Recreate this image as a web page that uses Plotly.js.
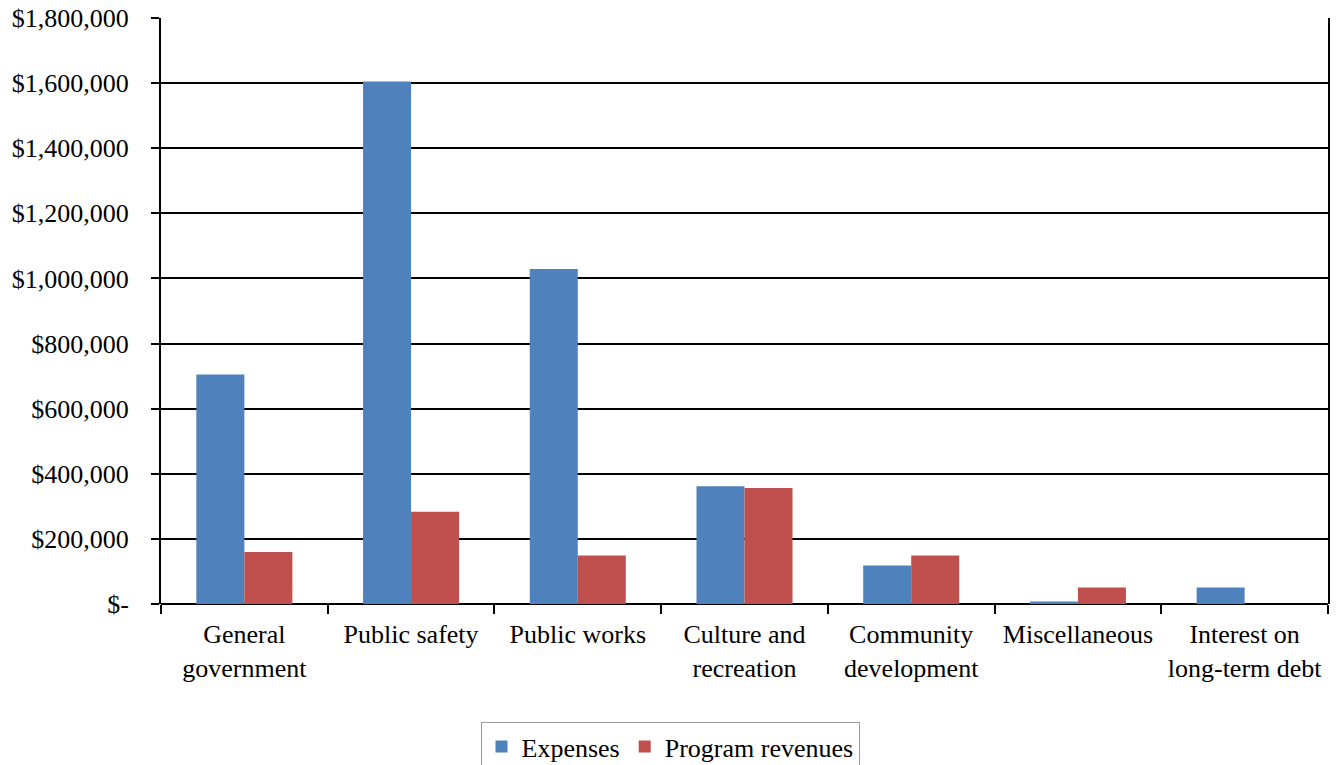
<!DOCTYPE html>
<html>
<head>
<meta charset="utf-8">
<script src="https://cdn.plot.ly/plotly-3.0.1.min.js"></script>
<style>html,body{margin:0;padding:0;background:#fff;}#chart{width:1340px;height:765px;}</style>
</head>
<body>
<div id="chart"></div>
<script>
var categories = ["General<br>government", "Public safety", "Public works", "Culture and<br>recreation", "Community<br>development", "Miscellaneous", "Interest on<br>long-term debt"];
var expenses = [705000, 1605000, 1029000, 362000, 118000, 8000, 51000];
var programRevenues = [160000, 283000, 149000, 356000, 149000, 51000, 0];
var yTickVals = [0, 200000, 400000, 600000, 800000, 1000000, 1200000, 1400000, 1600000, 1800000];
var yTickText = ["$-", "$200,000", "$400,000", "$600,000", "$800,000", "$1,000,000", "$1,200,000", "$1,400,000", "$1,600,000", "$1,800,000"];

var font = {family: "Liberation Serif, Times New Roman, serif", size: 26, color: "#000"};

var traces = [
  {type: "bar", name: "Expenses", x: categories, y: expenses,
   marker: {color: "#4F81BD", line: {width: 0}}},
  {type: "bar", name: "Program revenues", x: categories, y: programRevenues,
   marker: {color: "#C0504D", line: {width: 0}}}
];

var layout = {
  width: 1340, height: 765,
  margin: {l: 161, r: 12, t: 18, b: 161, pad: 0},
  paper_bgcolor: "#fff", plot_bgcolor: "#fff",
  font: font,
  barmode: "group", bargap: 0.424, bargroupgap: 0,
  showlegend: true,
  legend: {orientation: "h", xref: "container", yref: "container", x: 0.5, xanchor: "center", y: 0.056, yanchor: "top",
           bordercolor: "#9a9a9a", borderwidth: 1, font: {family: font.family, size: 26, color: "#000"},
           traceorder: "normal", itemsizing: "constant"},
  xaxis: {type: "category", showgrid: false, showline: false, zeroline: false,
          ticks: "outside", tickson: "boundaries", ticklen: 9, tickwidth: 2, tickcolor: "#000",
          tickfont: font, ticklabelstandoff: 12, fixedrange: true},
  yaxis: {range: [0, 1800000], tickvals: yTickVals, ticktext: yTickText,
          showgrid: true, gridcolor: "#000", gridwidth: 2,
          showline: true, linecolor: "#000", linewidth: 2, mirror: true,
          zeroline: true, zerolinecolor: "#000", zerolinewidth: 2,
          ticks: "outside", ticklen: 8, tickwidth: 2, tickcolor: "#000",
          tickfont: font, ticklabelstandoff: 17, fixedrange: true}
};

Plotly.newPlot("chart", traces, layout, {displayModeBar: false, staticPlot: true});
</script>
</body>
</html>
